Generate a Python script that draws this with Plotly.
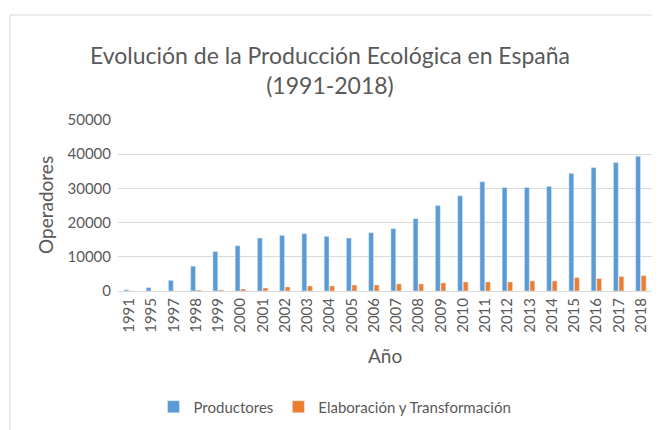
import plotly.graph_objects as go

years = ["1991", "1995", "1997", "1998", "1999", "2000", "2001", "2002", "2003", "2004",
         "2005", "2006", "2007", "2008", "2009", "2010", "2011", "2012", "2013", "2014",
         "2015", "2016", "2017", "2018"]
productores = [350, 1000, 3100, 7260, 11560, 13240, 15490, 16280, 16760, 15980,
               15490, 17060, 18240, 21180, 25000, 27840, 31960, 30290, 30290, 30590,
               34410, 36080, 37550, 39410]
elaboracion = [0, 0, 0, 300, 300, 590, 880, 1180, 1470, 1470,
               1760, 1760, 2060, 2060, 2350, 2650, 2650, 2650, 2940, 2940,
               3920, 3630, 4220, 4510]

FONT = "Lato"
GREY = "#595959"

fig = go.Figure()
fig.add_trace(go.Bar(x=years, y=productores, name="Productores",
                     marker=dict(color="#5B9BD5")))
fig.add_trace(go.Bar(x=years, y=elaboracion, name="Elaboración y Transformación",
                     marker=dict(color="#ED7D31")))

OFF = 8  # browser body margin
W, H = 660 - OFF, 430 - OFF
L, R, T, B = 118 - OFF, 8, 120 - OFF, 139
pw = W - L - R
ph = H - T - B

def px_x(x):
    return (x - OFF - L) / pw

def px_y(y):
    return (H - B - (y - OFF)) / ph

fig.update_layout(
    width=W, height=H,
    margin=dict(l=L, r=R, t=T, b=B),
    paper_bgcolor="white", plot_bgcolor="white",
    font=dict(family=FONT, color=GREY, size=15),
    barmode="group", bargap=0.5, bargroupgap=0.12,
    title=dict(text="Evolución de la Producción Ecológica en España<br>(1991-2018)",
               x=(330 - OFF) / W, xanchor="center", xref="container",
               y=1 - (64 - OFF) / H, yanchor="middle", yref="container",
               font=dict(family=FONT, size=23, color=GREY)),
    xaxis=dict(type="category", tickangle=-90, showgrid=False,
               showline=True, linecolor="#D9D9D9", linewidth=1,
               ticks="", tickfont=dict(size=15, color=GREY)),
    yaxis=dict(range=[0, 50000], dtick=10000, showgrid=True, gridcolor="#D9D9D9",
               gridwidth=1, zeroline=False, showline=False, ticks="",
               tickformat="d", tickfont=dict(size=15, color=GREY), ticklabelstandoff=6),
    showlegend=True,
    legend=dict(orientation="h", x=(335 - OFF) / W, xanchor="center", xref="container",
                y=1 - (407 - OFF) / H, yanchor="middle", yref="container",
                font=dict(size=15, color=GREY), traceorder="normal",
                itemwidth=30),
    annotations=[
        dict(text="Operadores", x=px_x(45), y=px_y(205), xref="paper", yref="paper",
             showarrow=False, textangle=-90, font=dict(size=19, color=GREY),
             xanchor="center", yanchor="middle"),
        dict(text="Año", x=px_x(385), y=px_y(355), xref="paper", yref="paper",
             showarrow=False, font=dict(size=19, color=GREY),
             xanchor="center", yanchor="middle"),
    ],
    shapes=[
        dict(type="rect", xref="paper", yref="paper",
             x0=px_x(10), x1=px_x(690), y0=px_y(15), y1=px_y(460),
             line=dict(color="#D9D9D9", width=1), fillcolor="rgba(0,0,0,0)", layer="below"),
    ],
)

fig.write_html("out.html")
